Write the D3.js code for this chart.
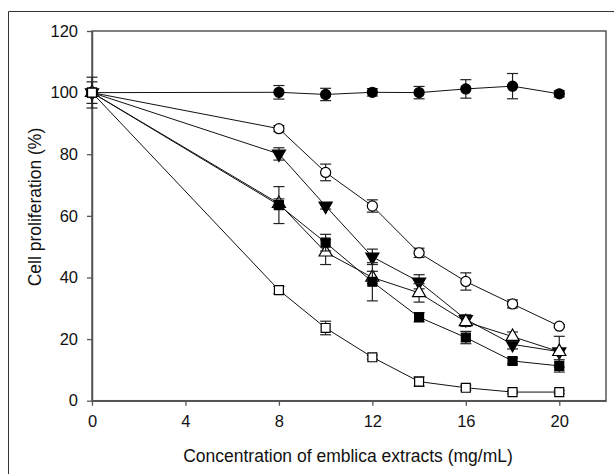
<!DOCTYPE html>
<html>
<head>
<meta charset="utf-8">
<script src="https://cdn.jsdelivr.net/npm/d3@7"></script>
<style>
  body { margin: 0; background: #fff; }
  text { font-family: "Liberation Sans", Arial, sans-serif; fill: #111; }
</style>
</head>
<body>
<script>
const w = 614;
const h = 474;

// concentrations (mg/mL)
const conc = [0, 8, 10, 12, 14, 16, 18, 20];
const xTicks = [0, 4, 8, 12, 16, 20];
const yTicks = [0, 20, 40, 60, 80, 100, 120];

// cell proliferation (%) and error for each series
const filledCircle = [100, 100.1, 99.4, 100.1, 100, 101.2, 102.1, 99.6];
const filledCircleErr = [1, 2.2, 2, 1.2, 2, 3, 4.1, 1];
const openCircle = [100, 88.3, 74.1, 63.2, 48, 38.7, 31.4, 24.2];
const openCircleErr = [1, 1, 2.7, 2, 1.5, 2.8, 1.3, 0.5];
const downTri = [100, 80.1, 63.2, 46.7, 38.6, 26.4, 18.3, 15.9];
const downTriErr = [1, 2, 1, 2.5, 2.3, 1.5, 1.5, 1];
const upTri = [100, 64, 48.2, 40, 35, 25.6, 20.8, 15.9];
const upTriErr = [3.5, 1.5, 4, 2, 3, 1.5, 1.5, 5];
const filledSquare = [100, 63.5, 51.3, 38.6, 27.1, 20.5, 12.9, 11.3];
const filledSquareErr = [1, 6, 2.7, 6.2, 1.5, 2, 1, 2];
const openSquare = [100, 35.9, 23.6, 14.1, 6.2, 4.2, 2.8, 2.8];
const openSquareErr = [5, 1.2, 2.2, 0.6, 1.5, 0.8, 0.5, 0.5];

const series = [
  {vals: filledCircle, err: filledCircleErr, sym: d3.symbolCircle, fill: '#000'},
  {vals: openCircle, err: openCircleErr, sym: d3.symbolCircle, fill: '#fff'},
  {vals: downTri, err: downTriErr, sym: d3.symbolTriangle, fill: '#000', flip: true},
  {vals: upTri, err: upTriErr, sym: d3.symbolTriangle, fill: '#fff'},
  {vals: filledSquare, err: filledSquareErr, sym: d3.symbolSquare, fill: '#000'},
  {vals: openSquare, err: openSquareErr, sym: d3.symbolSquare, fill: '#fff'}
];

const x = d3.scaleLinear().domain([0, 22]).range([92, 606]);
const y = d3.scaleLinear().domain([0, 120]).range([400.7, 31]);

let svg = d3.select('body')
  .append('svg')
  .attr('width', w)
  .attr('height', h);

// outer frame (cropped at right and bottom)
svg.append('path')
  .attr('d', `M8.5,${h} V11.5 H${w}`)
  .attr('fill', 'none')
  .attr('stroke', '#333')
  .attr('stroke-width', 1);

// plot box
svg.append('rect')
  .attr('x', 92).attr('y', 31)
  .attr('width', 606 - 92).attr('height', 400.7 - 31)
  .attr('fill', 'none')
  .attr('stroke', '#555')
  .attr('stroke-width', 1.5);

const xAxis = svg.append('g')
  .attr('transform', 'translate(0,400.7)')
  .call(d3.axisBottom(x).tickValues(xTicks).tickSize(5).tickPadding(10).tickSizeOuter(0));
const yAxis = svg.append('g')
  .attr('transform', 'translate(92,0)')
  .call(d3.axisLeft(y).tickValues(yTicks).tickSize(5).tickPadding(9).tickSizeOuter(0));

[xAxis, yAxis].forEach(a => {
  a.select('.domain').attr('stroke', '#555').attr('stroke-width', 1.5);
  a.selectAll('.tick line').attr('stroke', '#555').attr('stroke-width', 1.3);
  a.selectAll('.tick text')
    .attr('font-size', 16.5)
    .attr('font-family', '"Liberation Sans", Arial, sans-serif')
    .attr('fill', '#111');
});

svg.append('text')
  .attr('x', 348).attr('y', 462)
  .attr('text-anchor', 'middle')
  .attr('font-size', 17.5)
  .text('Concentration of emblica extracts (mg/mL)');

svg.append('text')
  .attr('transform', 'translate(41,207) rotate(-90)')
  .attr('text-anchor', 'middle')
  .attr('font-size', 17.5)
  .text('Cell proliferation (%)');

const line = d3.line()
  .x((d, i) => x(conc[i]))
  .y(d => y(d));

series.forEach(s => {
  const g = svg.append('g');
  g.append('path')
    .attr('d', line(s.vals))
    .attr('fill', 'none')
    .attr('stroke', '#111')
    .attr('stroke-width', 1);

  // error bars
  const eb = g.selectAll('g.err')
    .data(s.vals.map((v, i) => ({cx: conc[i], v: v, e: s.err[i]})))
    .enter()
    .append('g');
  eb.append('line')
    .attr('x1', d => x(d.cx)).attr('x2', d => x(d.cx))
    .attr('y1', d => y(d.v + d.e)).attr('y2', d => y(d.v - d.e));
  eb.append('line')
    .attr('x1', d => x(d.cx) - 5.5).attr('x2', d => x(d.cx) + 5.5)
    .attr('y1', d => y(d.v + d.e)).attr('y2', d => y(d.v + d.e));
  eb.append('line')
    .attr('x1', d => x(d.cx) - 5.5).attr('x2', d => x(d.cx) + 5.5)
    .attr('y1', d => y(d.v - d.e)).attr('y2', d => y(d.v - d.e));
  eb.selectAll('line').attr('stroke', '#222').attr('stroke-width', 1.2);

  g.selectAll('path.pt')
    .data(s.vals)
    .enter()
    .append('path')
    .attr('d', d3.symbol().type(s.sym).size(s.sym === d3.symbolTriangle ? 75 : 80))
    .attr('transform', (d, i) => `translate(${x(conc[i])},${y(d)})` + (s.flip ? ' rotate(180)' : ''))
    .attr('fill', s.fill)
    .attr('stroke', '#000')
    .attr('stroke-width', 1.2);
});
</script>
</body>
</html>
